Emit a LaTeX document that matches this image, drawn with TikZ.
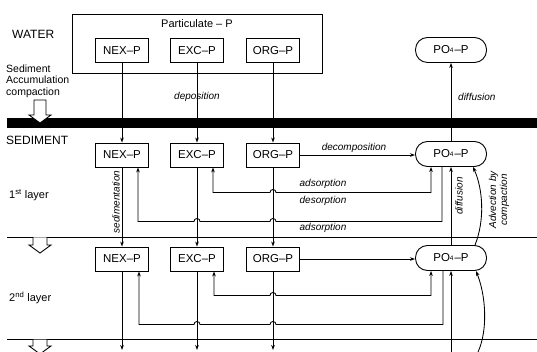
\documentclass[tikz,border=0pt]{standalone}
\usepackage{fontspec}
\setmainfont{Liberation Sans}
\usetikzlibrary{arrows.meta,calc}
\newcommand\pofour{PO\raisebox{0.25ex}{\fontsize{6.5}{6.5}\selectfont 4}\kern1pt–P}
\begin{document}
\begin{tikzpicture}[x=1pt,y=-1pt,
  box/.style={draw,line width=0.9pt,minimum width=53pt,minimum height=24pt,inner sep=0pt,font=\fontsize{11.5}{12}\selectfont},
  pbox/.style={draw,line width=0.9pt,rounded corners=12pt,minimum width=71pt,minimum height=25pt,inner sep=0pt,font=\fontsize{11.5}{12}\selectfont},
  lbl/.style={font=\itshape\fontsize{10}{11}\selectfont,inner sep=0pt},
  ttl/.style={font=\fontsize{12}{13}\selectfont,inner sep=0pt,anchor=west},
  ln/.style={line width=0.85pt},
  tip/.style={ln,-{Stealth[length=5pt,width=3.6pt]}},
  tipr/.style={ln,{Stealth[length=5pt,width=3.6pt]}-},
  tipb/.style={ln,{Stealth[length=5pt,width=3.6pt]}-{Stealth[length=5pt,width=3.6pt]}},
  hollow/.style={line width=0.9pt}]
\useasboundingbox (0,0) rectangle (537,352);

% band and layer separators
\fill (7,118) rectangle (537,128);
\draw[line width=0.8pt] (7,237) -- (537,237);
\draw[line width=0.8pt] (7,339) -- (537,339);

% left labels
\node[ttl] (wl) at (12,34) {WATER};
\node[anchor=west,align=left,font=\fontsize{10.5}{11.5}\selectfont,inner sep=0pt] (sa) at (6,81) {Sediment\\Accumulation\\compaction};
\node[ttl] (sl) at (6,140) {SEDIMENT};
\node[anchor=west,font=\fontsize{11}{12}\selectfont,inner sep=0pt] (l1) at (9,195) {1\textsuperscript{st} layer};
\node[anchor=west,font=\fontsize{11}{12}\selectfont,inner sep=0pt] (l2) at (9,298) {2\textsuperscript{nd} layer};

% hollow arrows
\fill[white] (34,100) -- (46,100) -- (46,115) -- (51,115) -- (40,123) -- (29,115) -- (34,115) -- cycle;
\draw[hollow] (34,100) -- (46,100) -- (46,115) -- (51,115) -- (40,123) -- (29,115) -- (34,115) -- cycle;
\fill[white] (33,237.5) -- (47,237.5) -- (47,245) -- (51,245) -- (40,253) -- (29,245) -- (33,245) -- cycle;
\draw[hollow] (33,237) -- (33,245) -- (29,245) -- (40,253) -- (51,245) -- (47,245) -- (47,237);
\fill[white] (33,339.5) -- (47,339.5) -- (47,346) -- (51,346) -- (40,354) -- (29,346) -- (33,346) -- cycle;
\draw[hollow] (33,339) -- (33,346) -- (29,346) -- (40,354) -- (51,346) -- (47,346) -- (47,339);

% water compartment
\node[draw,line width=0.9pt,minimum width=250pt,minimum height=59pt,inner sep=0pt] (part) at (197,43.5) {};
\node[font=\fontsize{11}{12}\selectfont,inner sep=0pt] (ptxt) at (197,24) {Particulate – P};
\node[box] (wn) at (122,50.5) {NEX–P};
\node[box] (we) at (197,50.5) {EXC–P};
\node[box] (wo) at (273,50.5) {ORG–P};
\node[pbox] (wp) at (451,50) {\pofour};

% layer 1
\node[box] (n1) at (122,155) {NEX–P};
\node[box] (e1) at (197,155) {EXC–P};
\node[box] (o1) at (273,155) {ORG–P};
\node[pbox] (p1) at (451,154) {\pofour};

% layer 2
\node[box] (n2) at (122,259) {NEX–P};
\node[box] (e2) at (197,259) {EXC–P};
\node[box] (o2) at (273,259) {ORG–P};
\node[pbox] (p2) at (451,258) {\pofour};

% deposition and diffusion to water
\draw[tip] (wn.south) -- (n1.north);
\draw[tip] (we.south) -- (e1.north);
\draw[tip] (wo.south) -- (o1.north);
\node[lbl] (dep) at (197,97) {deposition};
\draw[tip] (p1.north) -- (wp.south);
\node[lbl,anchor=west] (dif0) at (458,97) {diffusion};

% layer 1 connectors
\draw[tip] (n1.south) -- (n2.north);
\node[lbl,rotate=90] (sed) at (116,202) {sedimentation};
\draw[tip] (e1.south) -- (e2.north);
\draw[tip] (o1.south) -- (o2.north);
\draw[tip] (o1.east) -- (o1.east -| p1.west);
\node[lbl] (dec) at (354,148) {decomposition};
\draw[tipb] ($(p1.south)+(-20,0)$) -- ($(p1.south)+(-20,25.5)$) -- ($(o1.south)+(3,25)$)
  arc[start angle=0,end angle=180,radius=3pt] -- ($(e1.south)+(16,25)$) -- ($(e1.south)+(16,0)$);
\draw[tipr] ($(n1.south)+(16,0)$) -- ($(n1.south)+(16,54)$) -- ($(e1.south)+(-3,54)$)
  arc[start angle=180,end angle=0,radius=3pt] -- ($(o1.south)+(-3,54)$)
  arc[start angle=180,end angle=0,radius=3pt] -- ($(p1.south)+(-9,54.5)$) -- ($(p1.south)+(-9,0)$);
\node[lbl] (ads1) at (323,184) {adsorption};
\node[lbl] (des1) at (323,201) {desorption};
\node[lbl] (ads2) at (323,228) {adsorption};
\draw[tip] (p2.north) -- (p1.south);
\node[lbl,rotate=90] (dif1) at (459,196) {diffusion};
\draw[tip] ($(p2.north)+(24,0)$) .. controls +(10,-25) and +(10,22) .. ($(p1.south)+(22,0)$);
\node[lbl,rotate=90,align=center] (adv) at (499,200) {Advection by\\compaction};

% layer 2 connectors
\draw[tip] (o2.east) -- (o2.east -| p2.west);
\draw[tipb] ($(p2.south)+(-20,0)$) -- ($(p2.south)+(-20,24.5)$) -- ($(o2.south)+(3,24)$)
  arc[start angle=0,end angle=180,radius=3pt] -- ($(e2.south)+(17,24)$) -- ($(e2.south)+(17,0)$);
\draw[tipr] ($(n2.south)+(17,0)$) -- ($(n2.south)+(17,53)$) -- ($(e2.south)+(-3,53)$)
  arc[start angle=180,end angle=0,radius=3pt] -- ($(o2.south)+(-3,53)$)
  arc[start angle=180,end angle=0,radius=3pt] -- ($(p2.south)+(-8,53.5)$) -- ($(p2.south)+(-8,0)$);

% to deeper layers
\coordinate (bot) at (0,350);
\coordinate (bp) at (451,352);
\coordinate (ba) at (478,352);
\draw[tip] (n2.south) -- (n2.south |- bot);
\draw[tip] (e2.south) -- (e2.south |- bot);
\draw[tip] (o2.south) -- (o2.south |- bot);
\draw[tip] (bp) -- (p2.south);
\draw[tip] (ba) .. controls +(10,-22) and +(10,25) .. ($(p2.south)+(25,0)$);
\end{tikzpicture}
\end{document}
